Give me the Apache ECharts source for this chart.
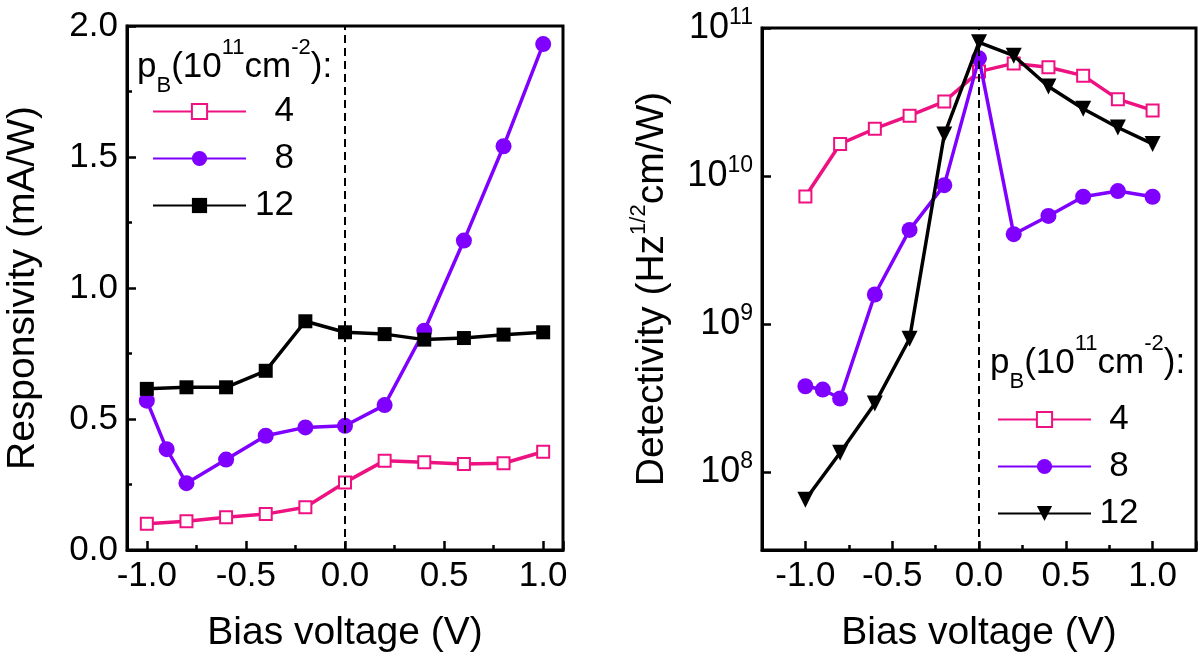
<!DOCTYPE html>
<html>
<head>
<meta charset="utf-8">
<script src="https://cdn.jsdelivr.net/npm/echarts@6/dist/echarts.min.js"></script>
<style>
  html, body { margin: 0; padding: 0; background: #fff; }
  #chart { width: 1200px; height: 661px; }
</style>
</head>
<body>
<div id="chart"></div>
<script>
// bias voltage (V)
var biasMain = [-1.0, -0.8, -0.6, -0.4, -0.2, 0.0, 0.2, 0.4, 0.6, 0.8, 1.0];
var biasP8 = [-1.0, -0.9, -0.8, -0.6, -0.4, -0.2, 0.0, 0.2, 0.4, 0.6, 0.8, 1.0];

// responsivity (mA/W)
var resp4 = [0.10, 0.11, 0.125, 0.137, 0.163, 0.258, 0.341, 0.335, 0.328, 0.331, 0.375];
var resp8 = [0.57, 0.385, 0.255, 0.345, 0.436, 0.468, 0.474, 0.553, 0.837, 1.181, 1.541, 1.931];
var resp12 = [0.615, 0.621, 0.621, 0.684, 0.873, 0.831, 0.824, 0.803, 0.809, 0.822, 0.831];

// detectivity (Hz^1/2 cm/W)
var det4 = [7.3e9, 1.65e10, 2.09e10, 2.56e10, 3.19e10, 5.08e10, 5.77e10, 5.43e10, 4.77e10, 3.31e10, 2.78e10];
var det8 = [3.82e8, 3.63e8, 3.16e8, 1.59e9, 4.34e9, 8.7e9, 6.24e10, 4.06e9, 5.39e9, 7.26e9, 7.93e9, 7.26e9];
var det12 = [6.55e7, 1.36e8, 2.92e8, 8.0e8, 1.91e10, 8.0e10, 6.5e10, 4.03e10, 2.85e10, 2.13e10, 1.65e10];

var densities = ['4', '8', '12'];
var colors = ['#EE1181', '#7F00FF', '#000000'];

var FONT = "'Liberation Sans', Arial, Helvetica, sans-serif";

function pairs(xs, ys) {
    var out = [];
    for (var i = 0; i < xs.length; i++) out.push([xs[i], ys[i]]);
    return out;
}

var dashLine = {
    silent: true,
    symbol: 'none',
    label: { show: false },
    lineStyle: { color: '#000', width: 2, type: [8, 5] },
    data: [{ xAxis: 0 }]
};

function mkSeries(prefix, idx, xs, ys, i, marker) {
    return {
        name: prefix + ' ' + densities[i],
        type: 'line',
        xAxisIndex: idx,
        yAxisIndex: idx,
        data: pairs(xs, ys),
        symbol: marker.symbol,
        symbolSize: marker.size,
        symbolRotate: marker.rotate || 0,
        lineStyle: { color: colors[i], width: 3.5 },
        itemStyle: { color: colors[i], borderColor: colors[i], borderWidth: marker.border || 0 },
        emphasis: { disabled: true },
        animation: false,
        z: 2 + i
    };
}

var mk4 = { symbol: 'emptyRect', size: 12, border: 2.8 };
var mk8 = { symbol: 'circle', size: 16 };
var mk12a = { symbol: 'rect', size: 14 };
var mk12b = { symbol: 'triangle', size: 16, rotate: 180 };

var series = [
    mkSeries('R', 0, biasMain, resp4, 0, mk4),
    mkSeries('R', 0, biasP8, resp8, 1, mk8),
    mkSeries('R', 0, biasMain, resp12, 2, mk12a),
    mkSeries('D', 1, biasMain, det4, 0, mk4),
    mkSeries('D', 1, biasP8, det8, 1, mk8),
    mkSeries('D', 1, biasMain, det12, 2, mk12b)
];
series[2].markLine = dashLine;
series[5].markLine = dashLine;

var tickCfg = { show: true, inside: true, length: 9, lineStyle: { color: '#000', width: 2.5 } };
var minorCfg = { show: true, splitNumber: 2, length: 5, lineStyle: { color: '#000', width: 2.5 } };
var lineCfg = { show: true, onZero: false, lineStyle: { color: '#000', width: 3 } };

function xAxisCfg(idx, lo, hi) {
    return {
        type: 'value', gridIndex: idx, min: lo, max: hi,
        name: 'Bias voltage (V)', nameLocation: 'middle', nameGap: 64,
        nameTextStyle: { fontFamily: FONT, fontSize: 39, color: '#000' },
        axisLine: lineCfg,
        axisTick: tickCfg,
        minorTick: minorCfg,
        axisLabel: {
            fontFamily: FONT, fontSize: 35, color: '#000', margin: 9,
            showMinLabel: false, showMaxLabel: false,
            formatter: function (v) { return v.toFixed(1); }
        },
        splitLine: { show: false }
    };
}

var legendTitle = {
    text: '{m|p}{sub|B}{m|(10}{sup|11}{m|cm}{sup|-2}{m|):}',
    rich: {
        m: { fontFamily: FONT, fontSize: 35, fill: '#000', lineHeight: 60 },
        sup: { fontFamily: FONT, fontSize: 22, fill: '#000', lineHeight: 30, verticalAlign: 'top' },
        sub: { fontFamily: FONT, fontSize: 22, fill: '#000', lineHeight: 14, verticalAlign: 'bottom' }
    }
};

function legendCfg(prefix, left, top, boxW, align) {
    return {
        orient: 'vertical', left: left, top: top, padding: 0,
        itemWidth: 93, itemHeight: 19, itemGap: 12,
        data: densities.map(function (d) { return prefix + ' ' + d; }),
        selectedMode: false,
        formatter: function (n) { return '{r|' + n.split(' ')[1] + '}'; },
        textStyle: {
            fontFamily: FONT, fontSize: 35, color: '#000', lineHeight: 32,
            rich: { r: { fontFamily: FONT, fontSize: 35, color: '#000', lineHeight: 32, width: boxW, align: align } }
        }
    };
}

var option = {
    backgroundColor: '#fff',
    animation: false,
    grid: [
        { left: 127, top: 26, width: 436, height: 524, show: true, borderColor: '#000', borderWidth: 3, backgroundColor: 'transparent' },
        { left: 762, top: 28, width: 434, height: 522, show: true, borderColor: '#000', borderWidth: 3, backgroundColor: 'transparent' }
    ],
    xAxis: [xAxisCfg(0, -1.1, 1.1), xAxisCfg(1, -1.25, 1.25)],
    yAxis: [
        {
            type: 'value', gridIndex: 0, min: 0, max: 2, interval: 0.5,
            name: 'Responsivity (mA/W)', nameLocation: 'middle', nameGap: 84,
            nameTextStyle: { fontFamily: FONT, fontSize: 39, color: '#000' },
            axisLine: lineCfg,
            axisTick: tickCfg,
            minorTick: minorCfg,
            axisLabel: {
                fontFamily: FONT, fontSize: 35, color: '#000', margin: 9,
                formatter: function (v) { return v.toFixed(1); }
            },
            splitLine: { show: false }
        },
        {
            type: 'log', logBase: 10, gridIndex: 1, min: 3e7, max: 1e11,
            name: '{m|Detectivity (Hz}{s|1/2}{m|cm/W)}', nameLocation: 'middle', nameGap: 86,
            nameTextStyle: {
                fontFamily: FONT, fontSize: 39, color: '#000',
                rich: {
                    m: { fontFamily: FONT, fontSize: 39, color: '#000', lineHeight: 48 },
                    s: { fontFamily: FONT, fontSize: 22, color: '#000', lineHeight: 20, verticalAlign: 'top' }
                }
            },
            axisLine: lineCfg,
            axisTick: tickCfg,
            minorTick: { show: false },
            axisLabel: {
                margin: 9, showMinLabel: false,
                formatter: function (v) {
                    return '{b|10}{s|' + Math.round(Math.log(v) / Math.LN10) + '}';
                },
                rich: {
                    b: { fontFamily: FONT, fontSize: 36, color: '#000', lineHeight: 44 },
                    s: { fontFamily: FONT, fontSize: 23, color: '#000', lineHeight: 16, verticalAlign: 'top' }
                }
            },
            splitLine: { show: false }
        }
    ],
    legend: [
        legendCfg('R', 152, 94, 43, 'right'),
        legendCfg('D', 997, 402, 46, 'center')
    ],
    graphic: [
        { type: 'text', left: 137, top: 37, z: 10, style: legendTitle },
        { type: 'text', left: 990, top: 333, z: 10, style: legendTitle }
    ],
    series: series
};

var chart = echarts.init(document.getElementById('chart'));
chart.setOption(option);
</script>
</body>
</html>
